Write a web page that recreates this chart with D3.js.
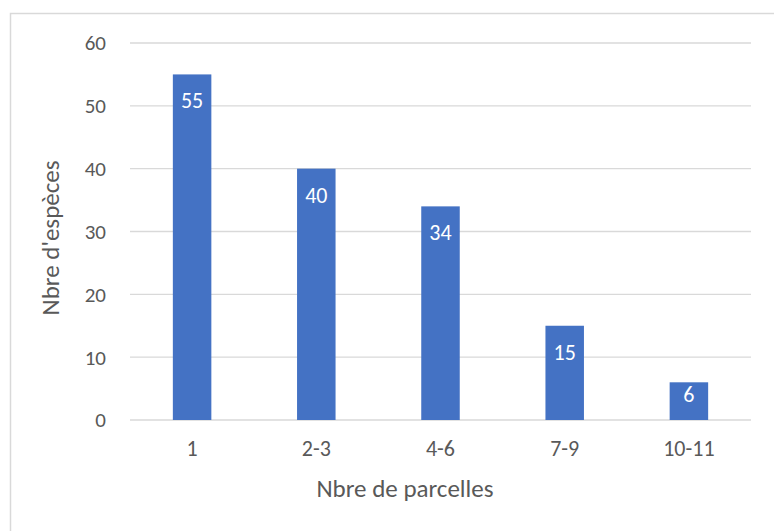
<!DOCTYPE html>
<html>
<head>
<meta charset="utf-8">
<script src="https://cdn.jsdelivr.net/npm/d3@7"></script>
<style>
  body { margin: 0; background: #fff; }
  svg text { font-family: Calibri, Carlito, "Liberation Sans", sans-serif; }
</style>
</head>
<body>
<script>
// Chart data
var categories = ["1", "2-3", "4-6", "7-9", "10-11"];
var especes = [55, 40, 34, 15, 6];
var yTicks = [0, 10, 20, 30, 40, 50, 60];

var width = 774, height = 531;
var margin = {left: 130, right: 23, top: 43, bottom: 111};

var svg = d3.select("body").append("svg")
    .attr("width", width)
    .attr("height", height);

// chart frame (runs off the right and bottom edge in the original)
svg.append("rect")
    .attr("x", 10.5).attr("y", 13.5)
    .attr("width", 800).attr("height", 600)
    .attr("fill", "none")
    .attr("stroke", "#d9d9d9")
    .attr("stroke-width", 1.5);

var x = d3.scaleBand()
    .domain(categories)
    .range([margin.left, width - margin.right])
    .paddingInner(0.69)
    .paddingOuter(0.345);

var y = d3.scaleLinear()
    .domain([0, 60])
    .range([height - margin.bottom, margin.top]);

// gridlines
svg.append("g")
    .selectAll("line")
    .data(yTicks)
    .join("line")
    .attr("x1", margin.left)
    .attr("x2", width - margin.right)
    .attr("y1", function (d) { return y(d); })
    .attr("y2", function (d) { return y(d); })
    .attr("stroke", "#d9d9d9")
    .attr("stroke-width", 1.3);

// y tick labels
svg.append("g")
    .selectAll("text")
    .data(yTicks)
    .join("text")
    .attr("x", 106)
    .attr("y", function (d) { return y(d); })
    .attr("dy", "0.35em")
    .attr("text-anchor", "end")
    .attr("fill", "#595959")
    .style("font-size", "21px")
    .text(function (d) { return d; });

// bars
svg.append("g")
    .selectAll("rect")
    .data(especes)
    .join("rect")
    .attr("x", function (d, i) { return x(categories[i]); })
    .attr("y", function (d) { return y(d); })
    .attr("width", x.bandwidth())
    .attr("height", function (d) { return y(0) - y(d); })
    .attr("fill", "#4472c4");

// data labels inside end
svg.append("g")
    .selectAll("text")
    .data(especes)
    .join("text")
    .attr("x", function (d, i) { return x(categories[i]) + x.bandwidth() / 2; })
    .attr("y", function (d) {
        var h = y(0) - y(d);
        return h < 50 ? y(d) + 20 : y(d) + 34;
    })
    .attr("text-anchor", "middle")
    .attr("fill", "#ffffff")
    .style("font-size", "22px")
    .text(function (d) { return d; });

// x tick labels
svg.append("g")
    .selectAll("text")
    .data(categories)
    .join("text")
    .attr("x", function (d) { return x(d) + x.bandwidth() / 2; })
    .attr("y", 456)
    .attr("text-anchor", "middle")
    .attr("fill", "#595959")
    .style("font-size", "22px")
    .text(function (d) { return d; });

// axis titles
svg.append("text")
    .attr("x", 405)
    .attr("y", 497)
    .attr("text-anchor", "middle")
    .attr("fill", "#595959")
    .style("font-size", "25px")
    .text("Nbre de parcelles");

svg.append("text")
    .attr("transform", "translate(59,238) rotate(-90)")
    .attr("text-anchor", "middle")
    .attr("fill", "#595959")
    .style("font-size", "25px")
    .text("Nbre d'espèces");
</script>
</body>
</html>
